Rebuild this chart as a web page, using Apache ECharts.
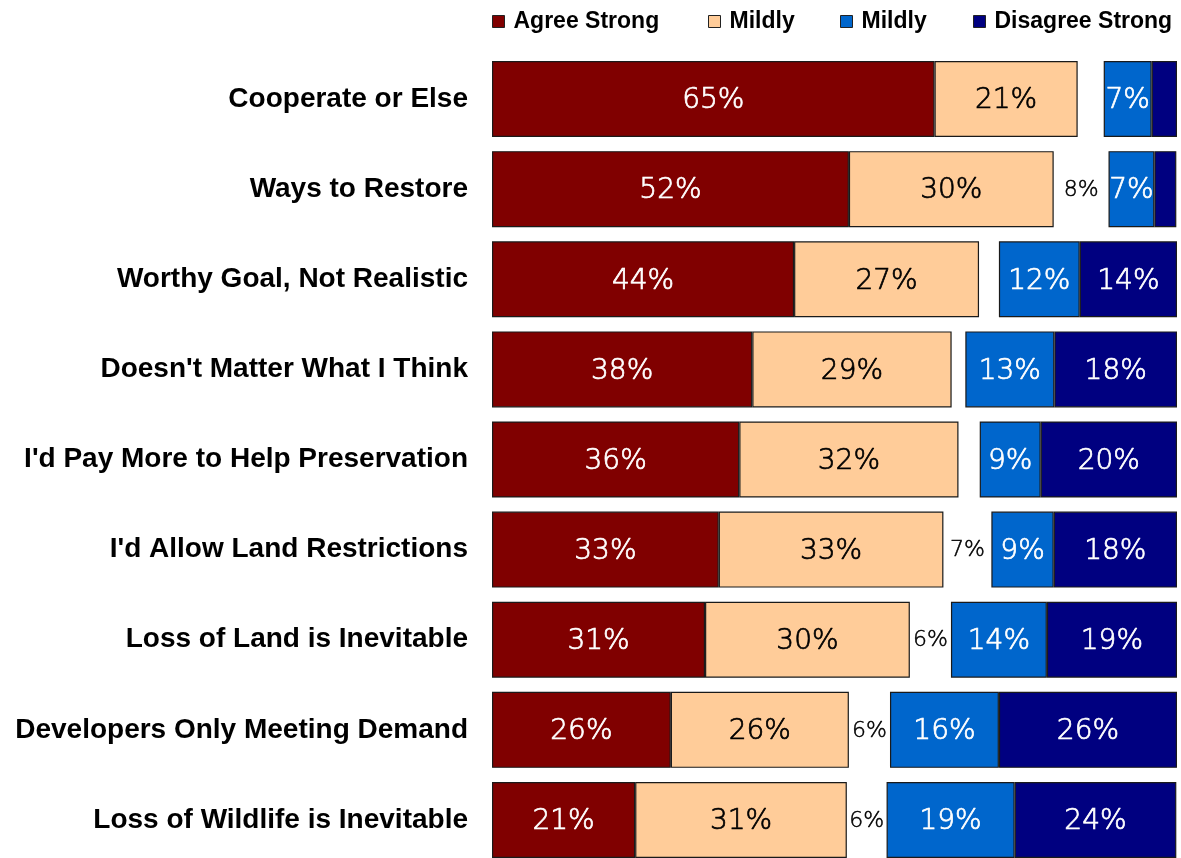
<!DOCTYPE html>
<html>
<head>
<meta charset="utf-8">
<script src="https://cdn.jsdelivr.net/npm/echarts@6/dist/echarts.min.js"></script>
<style>
html,body{margin:0;padding:0;background:#fff;}
#chart{width:1181px;height:858px;}
</style>
</head>
<body>
<div id="chart"></div>
<script>
const categories = [
  "Cooperate or Else",
  "Ways to Restore",
  "Worthy Goal, Not Realistic",
  "Doesn't Matter What I Think",
  "I'd Pay More to Help Preservation",
  "I'd Allow Land Restrictions",
  "Loss of Land is Inevitable",
  "Developers Only Meeting Demand",
  "Loss of Wildlife is Inevitable"
];
const agreeStrong    = [64.6, 52.1, 44.1, 38.0, 36.1, 33.1, 31.1, 26.1, 20.9];
const agreeMild      = [20.9, 29.9, 27.0, 29.1, 32.0, 32.8, 29.9, 26.0, 30.9];
const neutralGap     = [3.8, 8.0, 2.9, 2.0, 3.1, 7.0, 6.0, 6.0, 5.8];
const disagreeMild   = [7.0, 6.7, 11.8, 13.0, 8.9, 9.1, 14.0, 15.9, 18.7];
const disagreeStrong = [3.7, 3.2, 14.2, 17.9, 19.9, 18.0, 19.0, 26.0, 23.6];
const legendLabels = ["Agree Strong", "Mildly", "Mildly", "Disagree Strong"];

const chart = echarts.init(document.getElementById('chart'));
const valFont = "'DejaVu Sans', 'Open Sans', sans-serif";
function pct(p){ return Math.round(p.value) + '%'; }
function barSeries(id, name, data, color, textColor){
  return {
    id: id, name: name, type: 'bar', stack: 'all', data: data, barWidth: 76,
    itemStyle: { color: color, borderColor: '#1a1a1a', borderWidth: 1.2 },
    label: {
      show: true, position: 'inside', color: textColor, offset: [0, 2],
      fontFamily: valFont, fontSize: 28, fontWeight: 200,
      textBorderColor: textColor, textBorderWidth: 0.7,
      formatter: function(p){ return p.value >= 5 ? pct(p) : ''; }
    },
    emphasis: { disabled: true }
  };
}
const names = ['Agree Strong', 'Mildly (agree)', 'Mildly (disagree)', 'Disagree Strong'];
const legendX = [492, 708, 840, 973];
const legendColors = ['#800000', '#FFCC99', '#0066CC', '#000080'];
const legends = names.map(function(n, i){
  return {
    data: [n], left: legendX[i], top: 10, itemWidth: 12, itemHeight: 12, itemGap: 0,
    padding: 0,
    icon: 'rect',
    textStyle: { fontFamily: "'Liberation Sans', Arial, sans-serif", fontWeight: 'bold', fontSize: 23, color: '#000', padding: [0,0,0,4] },
    formatter: function(){ return legendLabels[i]; },
    itemStyle: { borderColor: '#222', borderWidth: 1 },
    selectedMode: false
  };
});

chart.setOption({
  animation: false,
  backgroundColor: '#fff',
  legend: legends,
  grid: { left: 492, right: 4, top: 54, bottom: -7, containLabel: false, outerBoundsMode: 'none' },
  xAxis: { type: 'value', min: 0, max: 100, show: false },
  yAxis: {
    type: 'category', data: categories, inverse: true,
    axisLine: { show: false }, axisTick: { show: false },
    axisLabel: { margin: 24, color: '#000', fontFamily: "'Liberation Sans', Arial, sans-serif", fontWeight: 'bold', fontSize: 28, padding: [4, 0, 0, 0] }
  },
  series: [
    barSeries('s1', names[0], agreeStrong, legendColors[0], '#fff'),
    barSeries('s2', names[1], agreeMild, legendColors[1], '#000'),
    {
      id: 'gap', name: 'gap', type: 'bar', stack: 'all', data: neutralGap, barWidth: 76,
      itemStyle: { color: 'rgba(0,0,0,0)' },
      label: { show: true, position: 'inside', color: '#000', fontFamily: valFont, fontSize: 22, fontWeight: 200,
        textBorderColor: '#000', textBorderWidth: 0.5, offset: [0, 1],
        formatter: function(p){ return p.value >= 5 ? pct(p) : ''; } },
      emphasis: { disabled: true }, silent: true
    },
    barSeries('s3', names[2], disagreeMild, legendColors[2], '#fff'),
    barSeries('s4', names[3], disagreeStrong, legendColors[3], '#fff')
  ]
});
</script>
</body>
</html>
